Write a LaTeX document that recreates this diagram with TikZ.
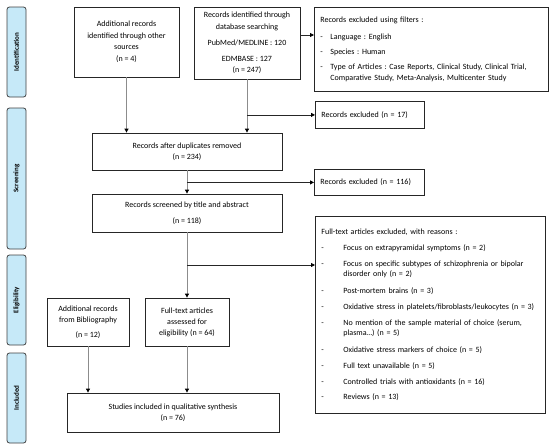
\documentclass[tikz,border=0pt]{standalone}
\usepackage{fontspec}
\setmainfont{Carlito}
\usetikzlibrary{arrows.meta,calc}
\definecolor{barfill}{HTML}{C6E9F8}
\definecolor{barline}{HTML}{404040}
\definecolor{boxline}{HTML}{262626}
\definecolor{flowline}{HTML}{8C8C8C}
\newcommand{\dashline}[2]{\makebox[#1][l]{-}#2}
\frenchspacing
\begin{document}
\begin{tikzpicture}[x=1pt,y=-1pt,
  phase/.style={draw=barline,fill=barfill,rounded corners=2.5pt,rotate=90,line width=0.8pt,
    font=\fontsize{7}{8}\selectfont\bfseries,minimum height=19pt,inner sep=0pt},
  stage/.style={draw=boxline,line width=0.8pt,align=center,font=\fontsize{8}{11}\selectfont,inner sep=0pt},
  exclbox/.style={draw=boxline,line width=0.8pt,anchor=north west,align=left,
    font=\fontsize{8}{10.5}\selectfont,inner xsep=6pt,inner ysep=0pt},
  flow/.style={flowline,line width=0.9pt,-{Triangle[length=4pt,width=4pt,color=black]}},
  branch/.style={black!85,line width=0.8pt,-{Triangle[length=4pt,width=4pt,color=black]}}]
  \useasboundingbox (0,0) rectangle (550,448);
  % phase bars
  \node [phase,minimum width=90pt] (ident) at (16.5,52) {Identification};
  \node [phase,minimum width=141pt] (screen) at (16.5,178.5) {Screening};
  \node [phase,minimum width=90pt] (elig) at (16.5,300) {Eligibility};
  \node [phase,minimum width=90pt] (incl) at (16.5,398) {Included};
  % flow boxes
  \node [stage,minimum width=105pt,minimum height=70pt] (other) at (126.5,42)
    {Additional records\\[1pt]identified through other\\sources\\[1pt](n = 4)};
  \node [stage,minimum width=106pt,minimum height=72pt] (db) at (247,43)
    {Records identified through\\[1pt]database searching\\[5pt]PubMed/MEDLINE : 120\\[5pt]EDMBASE : 127\\(n =  247)};
  \node [stage,minimum width=190pt,minimum height=37pt] (dup) at (187,151.5)
    {Records after duplicates removed\\(n = 234)};
  \node [stage,minimum width=190pt,minimum height=38pt] (screened) at (187,213)
    {Records screened by title and abstract\\[5pt](n = 118)};
  \node [stage,minimum width=82pt,minimum height=48pt] (bib) at (88,322)
    {Additional records\\from Bibliography\\[4pt](n = 12)};
  \node [stage,minimum width=84pt,minimum height=48pt] (fta) at (187,322)
    {Full-text articles\\assessed for\\eligibility (n = 64)};
  \node [stage,minimum width=212pt,minimum height=39pt] (studies) at (173,412.5)
    {Studies included in qualitative synthesis\\(n = 76)};
  % exclusion boxes
  \node [exclbox,minimum width=234pt,minimum height=84pt,text width=222pt] (filters) at (314,7)
    {Records excluded using filters :\\[6pt]
     \dashline{10pt}{Language : English}\\[4.5pt]
     \dashline{10pt}{Species : Human}\\[5pt]
     \dashline{10pt}{Type of Articles : Case Reports, Clinical Study, Clinical Trial,}\\
     \hspace*{10pt}Comparative Study, Meta-Analysis, Multicenter Study};
  \node [exclbox,minimum width=109pt,minimum height=27pt,text width=97pt] (excl17) at (315,101)
    {Records excluded (n = 17)};
  \node [exclbox,minimum width=110pt,minimum height=26pt,text width=98pt] (excl116) at (314,169)
    {Records excluded (n = 116)};
  \node [exclbox,minimum width=230pt,minimum height=197pt,text width=218pt] (ftout) at (315,216)
    {Full-text articles excluded, with reasons :\\[5.5pt]
     \dashline{22pt}{Focus on extrapyramidal symptoms (n = 2)}\\[5.5pt]
     \dashline{22pt}{Focus on specific subtypes of schizophrenia or bipolar}\\
     \hspace*{22pt}disorder only (n = 2)\\[6pt]
     \dashline{22pt}{Post-mortem brains (n = 3)}\\[6pt]
     \dashline{22pt}{Oxidative stress in platelets/fibroblasts/leukocytes (n = 3)}\\[5pt]
     \dashline{22pt}{No mention of the sample material of choice (serum,}\\
     \hspace*{22pt}plasma\ldots) (n = 5)\\[6pt]
     \dashline{22pt}{Oxidative stress markers of choice (n = 5)}\\[5.5pt]
     \dashline{22pt}{Full text unavailable (n = 5)}\\[5.5pt]
     \dashline{22pt}{Controlled trials with antioxidants (n = 16)}\\[5pt]
     \dashline{22pt}{Reviews (n = 13)}};
  % connectors
  \coordinate (split) at ($(screened.south)!0.5!(fta.north)$);
  \draw [flow] (other.south) -- (other.south |- dup.north);
  \draw [flow] (db.south) -- (db.south |- dup.north);
  \draw [branch] ([yshift=8pt]db.east) -- ([yshift=8pt]db.east -| filters.west);
  \draw [branch] (db.south |- excl17.west) -- (excl17.west);
  \draw [flow] (dup.south) -- (screened.north);
  \draw [branch] (dup.south |- excl116.west) -- (excl116.west);
  \draw [flow] (screened.south) -- (fta.north);
  \draw [branch] (split) -- (split -| ftout.west);
  \draw [flow] (bib.south) -- (bib.south |- studies.north);
  \draw [flow] (fta.south) -- (fta.south |- studies.north);
\end{tikzpicture}
\end{document}
